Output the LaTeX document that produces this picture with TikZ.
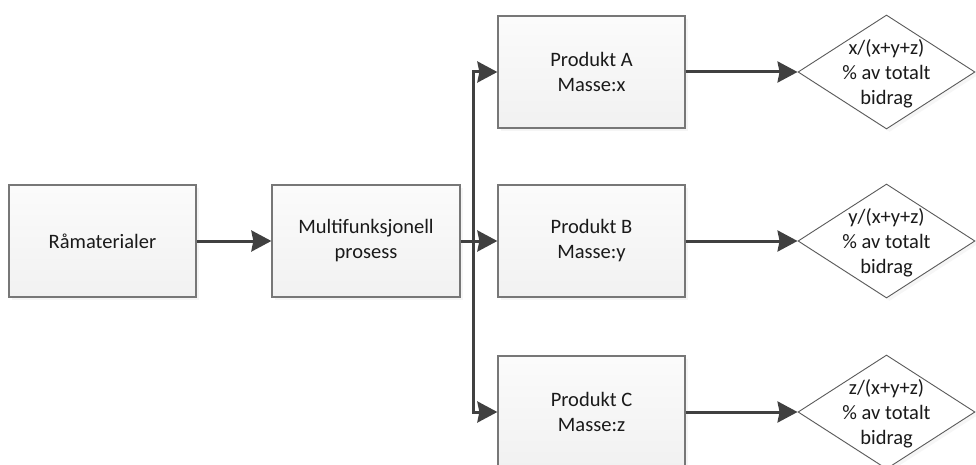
\documentclass[tikz,border=0pt]{standalone}
\usepackage{fontspec}
\setmainfont{Carlito}
\usetikzlibrary{arrows.meta,shapes.geometric,shadows}
\definecolor{arrowc}{HTML}{404040}
\definecolor{boxline}{HTML}{777777}
\definecolor{dialine}{HTML}{5A5A5A}
\definecolor{txt}{HTML}{1A1A1A}
\tikzset{
  procbox/.style={rectangle, draw=boxline, line width=1.3pt,
    top color=white!98.5!black, bottom color=white!94.5!black,
    minimum width=187pt, minimum height=112pt, inner sep=0pt,
    align=center, text=txt, font=\fontsize{20.5}{25}\selectfont,
    drop shadow={opacity=0.08, shadow xshift=3pt, shadow yshift=-3pt}},
  dia/.style={diamond, draw=dialine, line width=0.9pt, fill=white,
    minimum width=177pt, minimum height=114pt, inner sep=0pt, aspect=1.55,
    drop shadow={opacity=0.07, shadow xshift=3pt, shadow yshift=-3pt}},
  diatext/.style={align=center, text=txt, inner sep=0pt,
    font=\fontsize{20.5}{25}\selectfont},
  flow/.style={draw=arrowc, line width=3pt,
    -{Stealth[length=20pt, width=21pt, inset=2pt]}},
  flowline/.style={draw=arrowc, line width=3pt},
}
\begin{document}
\begin{tikzpicture}[x=1pt, y=-1pt]
\useasboundingbox (0,0) rectangle (976,465);
\clip (0,0) rectangle (976,465);
\node[procbox] (r) at (102.5,241) {Råmaterialer};
\node[procbox, minimum width=188pt] (m) at (366,241) {Multifunksjonell\\prosess};
\node[procbox] (a) at (591.5,72) {Produkt A\\Masse:x};
\node[procbox] (b) at (591.5,241) {Produkt B\\Masse:y};
\node[procbox] (c) at (591.5,412) {Produkt C\\Masse:z};
\node[dia] (da) at (886.5,72) {};
\node[dia] (db) at (886.5,241) {};
\node[dia] (dc) at (886.5,412) {};
\node[diatext] (ta) at (886.5,74) {x/(x+y+z)\\\% av totalt\\bidrag};
\node[diatext] (tb) at (886.5,243) {y/(x+y+z)\\\% av totalt\\bidrag};
\node[diatext] (tc) at (886.5,414) {z/(x+y+z)\\\% av totalt\\bidrag};
\coordinate (split) at (473,241);
\draw[flow] (r.east) -- (m.west);
\draw[flowline] (m.east) -- (split);
\draw[flow] (split) |- (a.west);
\draw[flow] (split) -- (b.west);
\draw[flow] (split) |- (c.west);
\draw[flow] (a.east) -- (da.west);
\draw[flow] (b.east) -- (db.west);
\draw[flow] (c.east) -- (dc.west);
\end{tikzpicture}
\end{document}
